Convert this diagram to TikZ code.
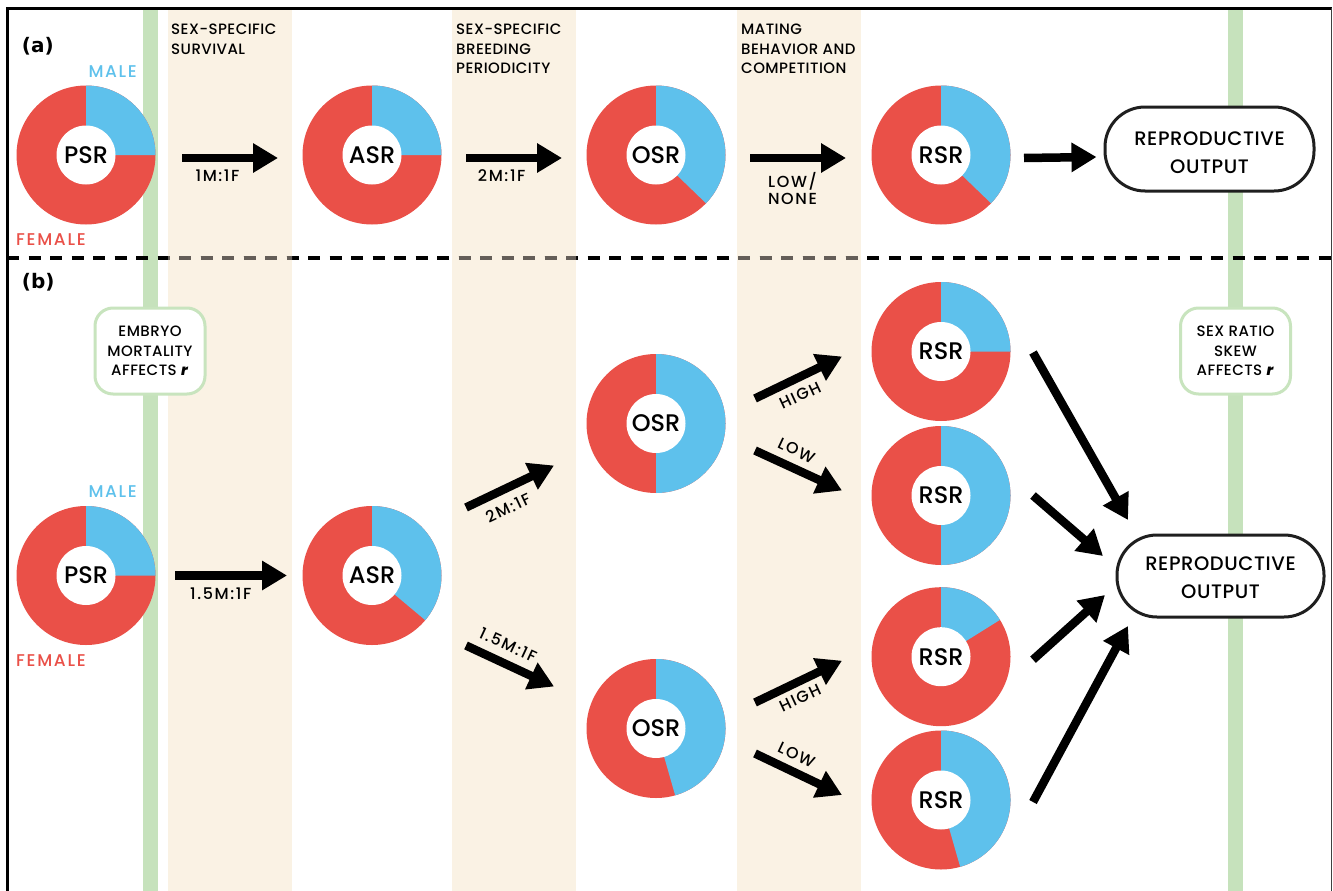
\documentclass[tikz,border=0pt]{standalone}
\usepackage{fontspec}
\setmainfont{Poppins}[UprightFont={* Medium}, BoldFont={* Bold}, ItalicFont={* Medium Italic}, BoldItalicFont={* Bold Italic}]
\newfontfamily\labfont{DejaVu Sans}
\newfontfamily\trk{Poppins Medium}[LetterSpace=10]
\newfontfamily\trh{Poppins Medium}[LetterSpace=3]
\usetikzlibrary{arrows.meta,calc}
\definecolor{mred}{RGB}{234,80,72}
\definecolor{mblue}{RGB}{94,193,236}
\definecolor{bandgreen}{RGB}{198,226,188}
\definecolor{bandbeige}{RGB}{250,242,228}
\definecolor{boxgreen}{RGB}{200,228,190}
\definecolor{dashgray}{RGB}{100,94,88}
\newcommand{\mydonut}[5]{%
  \fill[mred] (#2,-#3) circle[radius=69.5];
  \fill[mblue] (#2,-#3) -- ++(#4:69.5) arc[start angle=#4, end angle=90, radius=69.5] -- cycle;
  \node[donutlab] (#1) at (#2,-#3) {#5};
}
\begin{document}
\begin{tikzpicture}[x=1pt,y=1pt,
  donutlab/.style={circle, fill=white, minimum size=59pt, inner sep=0pt, font=\fontsize{24}{24}\selectfont},
  bigarrow/.style={line width=8.5pt, -{Triangle[length=25pt,width=28pt]}},
  arrlab/.style={inner sep=0pt, font=\trk\fontsize{16}{17.7}\selectfont, align=center},
  header/.style={anchor=north west, align=left, inner sep=0pt, font=\trh\fontsize{15}{19.5}\selectfont},
  outbox/.style={draw=black!88, line width=3pt, fill=white, rounded corners=40pt, minimum width=209pt, minimum height=84pt, align=center, font=\trh\fontsize{19.5}{27.3}\selectfont},
  greenbox/.style={draw=boxgreen, line width=3pt, fill=white, rounded corners=18pt, minimum width=110pt, minimum height=86pt, align=center, font=\trh\fontsize{15}{19.5}\selectfont, inner sep=0pt},
  sexlab/.style={anchor=base west, inner sep=0pt, font=\trk\fontsize{17}{17}\selectfont},
  panel/.style={anchor=base west, inner sep=0pt, font=\labfont\bfseries\fontsize{20}{20}\selectfont}
]
\useasboundingbox (0,0) rectangle (1333,-891);
\fill[white] (0,0) rectangle (1333,-891);
% bands
\fill[bandgreen] (143,-9) rectangle (158,-891);
\fill[bandgreen] (1228,-9) rectangle (1243,-891);
\fill[bandbeige] (168,-9) rectangle (292,-891);
\fill[bandbeige] (452,-9) rectangle (576,-891);
\fill[bandbeige] (737,-9) rectangle (861,-891);
% dashed separator
\draw[line width=4pt, dash pattern=on 12pt off 9.5pt] (7,-258) -- (1333,-258);
\begin{scope}
  \clip (168,0) rectangle (292,-891) (452,0) rectangle (576,-891) (737,0) rectangle (861,-891);
  \draw[dashgray, line width=4pt, dash pattern=on 12pt off 9.5pt] (7,-258) -- (1333,-258);
\end{scope}
% frame
\draw[line width=3pt] (7.5,-891) -- (7.5,-8.5) -- (1331.5,-8.5);
\draw[line width=1pt, black!75] (1331.5,-8.5) -- (1331.5,-891);
% headers
\node[header] (h1) at (171,-24) {SEX-SPECIFIC\\SURVIVAL};
\node[header] (h2) at (456,-24) {SEX-SPECIFIC\\BREEDING\\PERIODICITY};
\node[header] (h3) at (741,-24) {MATING\\BEHAVIOR AND\\COMPETITION};
% panel labels
\node[panel] (pa) at (21.7,-52.2) {(a)};
\node[panel] (pb) at (21.7,-288.5) {(b)};
\node[sexlab, text=mblue] (maleA) at (88.3,-77.3) {MALE};
\node[sexlab, text=mred] (femA) at (16,-245) {FEMALE};
\node[sexlab, text=mblue] (maleB) at (88.3,-497.3) {MALE};
\node[sexlab, text=mred] (femB) at (16,-666) {FEMALE};
% green boxes
\node[greenbox] (embryo) at (150,-351) {EMBRYO\\MORTALITY\\AFFECTS \textit{\textbf{r}}};
\node[greenbox] (skew) at (1235.5,-351) {SEX RATIO\\SKEW\\AFFECTS \textit{\textbf{r}}};
% donuts
\mydonut{psrA}{86}{155}{0}{PSR}
\mydonut{asrA}{372}{155}{0}{ASR}
\mydonut{osrA}{656}{155}{-44}{OSR}
\mydonut{rsrA}{941}{155}{-44}{RSR}
\mydonut{psrB}{86}{575.5}{0}{PSR}
\mydonut{asrB}{372}{575.5}{-40}{ASR}
\mydonut{osrB1}{656}{423.5}{-90}{OSR}
\mydonut{osrB2}{656}{728.5}{-74}{OSR}
\mydonut{rsrB1}{941}{351.5}{0}{RSR}
\mydonut{rsrB2}{941}{495.5}{-90}{RSR}
\mydonut{rsrB3}{941}{656.7}{32}{RSR}
\mydonut{rsrB4}{941}{800}{-74}{RSR}
% output boxes
\node[outbox] (outA) at (1209.5,-149) {\rule{0pt}{21pt}REPRODUCTIVE\\OUTPUT};
\node[outbox, minimum width=207pt, minimum height=82pt] (outB) at (1220.5,-576) {\rule{0pt}{17pt}REPRODUCTIVE\\OUTPUT};
% arrows (a)
\draw[bigarrow] ($(psrA)+(96,-3)$) -- ($(asrA)+(-94,-3)$);
\draw[bigarrow] ($(asrA)+(94,-3)$) -- ($(osrA)+(-94,-3)$);
\draw[bigarrow] ($(osrA)+(94,-3)$) -- ($(rsrA)+(-95,-3)$);
\draw[bigarrow] ($(rsrA)+(83,-3)$) -- ($(outA.west)+(-7,-8)$);
% arrows (b)
\draw[bigarrow] ($(psrB)+(89,0)$) -- ($(asrB)+(-85,0)$);
\draw[bigarrow] ($(asrB)+(94,68)$) -- ($(osrB1)+(-102,-42)$);
\draw[bigarrow] ($(asrB)+(94,-70)$) -- ($(osrB2)+(-102,42)$);
\draw[bigarrow] ($(osrB1)+(99,25)$) -- ($(rsrB1)+(-99,-5)$);
\draw[bigarrow] ($(osrB1)+(99,-27)$) -- ($(rsrB2)+(-99,5)$);
\draw[bigarrow] ($(osrB2)+(99,26)$) -- ($(rsrB3)+(-99,-4)$);
\draw[bigarrow] ($(osrB2)+(99,-25)$) -- ($(rsrB4)+(-99,5)$);
\draw[bigarrow] ($(rsrB1)+(92,-1)$) -- ($(outB)+(-92.5,56)$);
\draw[bigarrow] ($(rsrB2)+(92,0)$) -- ($(outB)+(-117.5,20)$);
\draw[bigarrow] ($(rsrB3)+(92,-3)$) -- ($(outB)+(-115.5,-19)$);
\draw[bigarrow] ($(rsrB4)+(92,-2)$) -- ($(outB)+(-92.5,-50)$);
% arrow labels
\node[arrlab, anchor=base] (l1) at (217.5,-181) {1M:1F};
\node[arrlab, anchor=base] (l2) at (501.7,-181.7) {2M:1F};
\node[arrlab] (l3) at (792.5,-188.5) {LOW/\\NONE};
\node[arrlab, anchor=base] (lb1) at (220.7,-599.3) {1.5M:1F};
\node[arrlab, rotate=25.5] (lb2) at (508,-508) {2M:1F};
\node[arrlab, rotate=-25] (lb3) at (508,-645) {1.5M:1F};
\node[arrlab, rotate=25.2] (lb4) at (800,-395.5) {HIGH};
\node[arrlab, rotate=-25.2] (lb5) at (796.5,-450.5) {LOW};
\node[arrlab, rotate=25.2] (lb6) at (800,-698) {HIGH};
\node[arrlab, rotate=-25.2] (lb7) at (796.5,-755) {LOW};
\end{tikzpicture}
\end{document}
